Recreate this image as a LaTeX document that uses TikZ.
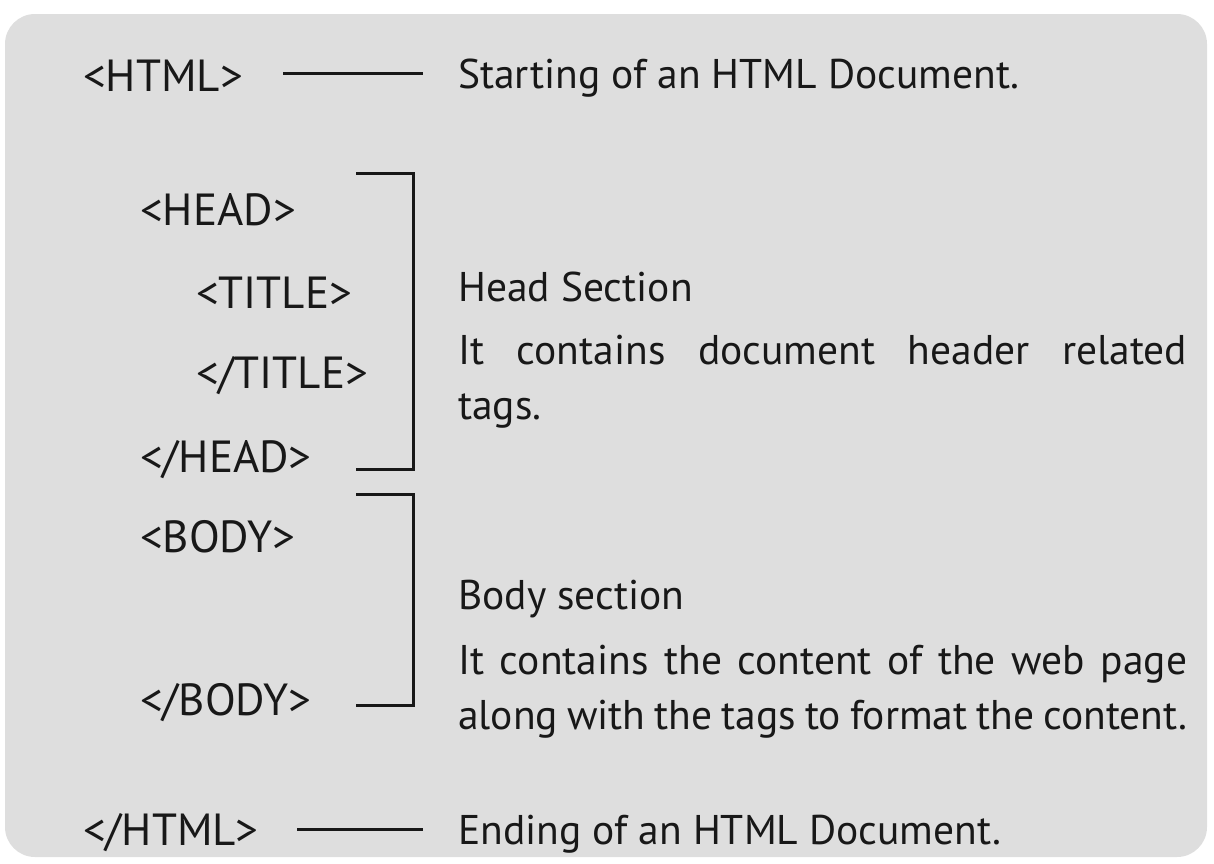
\documentclass[tikz,border=0pt]{standalone}
\usepackage{fontspec}
\setmainfont{PT Sans}
\definecolor{bggray}{RGB}{222,222,222}
\definecolor{ink}{RGB}{24,24,24}
\begin{document}
\begin{tikzpicture}[x=1pt,y=-1pt,
  tag/.style={anchor=base west,inner sep=0pt,text=ink,font=\fontsize{45}{50}\selectfont},
  desc/.style={anchor=base west,inner sep=0pt,text=ink,font=\fontsize{41.5}{55}\selectfont},
  rule/.style={draw=ink,line width=3pt},
  brk/.style={draw=ink,line width=3pt,line cap=rect}]
\useasboundingbox (0,0) rectangle (1214,863);
\fill[bggray,rounded corners=30pt] (5,14) rectangle (1207,857);
% left tags
\node[tag] (html) at (83,91) {<HTML>};
\node[tag] (head) at (140,225) {<HEAD>};
\node[tag] (title) at (196,308) {<TITLE>};
\node[tag] (etitle) at (196,388) {</TITLE>};
\node[tag] (ehead) at (140,472) {</HEAD>};
\node[tag] (body) at (140,552) {<BODY>};
\node[tag] (ebody) at (140,715) {</BODY>};
\node[tag] (ehtml) at (83,845) {</HTML>};
% right descriptions
\node[desc] (start) at (458,88) {Starting of an HTML Document.};
\node[desc] (headsec) at (458,301) {Head Section};
\node[desc] (headtxt) at (458,364) {\parbox[t]{729pt}{\fontsize{41.5}{55}\selectfont\hyphenpenalty=10000 It contains document header related\linebreak tags.}};
\node[desc] (bodysec) at (458,609) {Body section};
\node[desc] (bodytxt) at (458,674) {\parbox[t]{729pt}{\fontsize{41.5}{55}\selectfont\hyphenpenalty=10000\parfillskip=0pt It contains the content of the web page\linebreak along with the tags to format the content.}};
\node[desc] (end) at (458,844) {Ending of an HTML Document.};
% connector lines
\coordinate (l1a) at (283,73);
\coordinate (l1b) at (423,73);
\coordinate (l2a) at (297,829);
\coordinate (l2b) at (423,829);
\draw[rule] (l1a) -- (l1b);
\draw[rule] (l2a) -- (l2b);
% brackets
\coordinate (h1) at (357,173);
\coordinate (h2) at (413,173);
\coordinate (h3) at (413,469);
\coordinate (h4) at (357,469);
\draw[brk] (h1) -- (h2) -- (h3) -- (h4);
\coordinate (b1) at (357,494);
\coordinate (b2) at (413,494);
\coordinate (b3) at (413,705);
\coordinate (b4) at (357,705);
\draw[brk] (b1) -- (b2) -- (b3) -- (b4);
\end{tikzpicture}
\end{document}
